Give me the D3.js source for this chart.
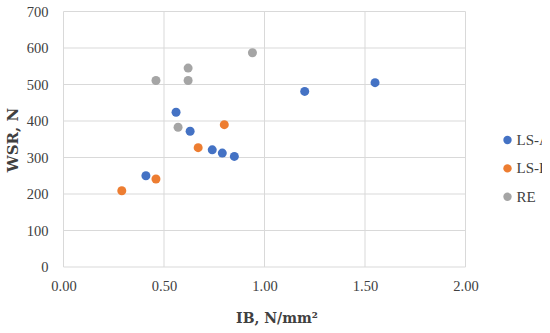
<!DOCTYPE html>
<html>
<head>
<meta charset="utf-8">
<script src="https://cdn.jsdelivr.net/npm/d3@7"></script>
<style>
  body { margin: 0; background: #fff; }
  svg { display: block; }
  text { font-family: "Liberation Serif", "DejaVu Serif", serif; fill: #404040; }
</style>
</head>
<body>
<svg id="canvas" width="550" height="333"></svg>
<script>
// values
let seriesNames = ['LS-A', 'LS-B', 'RE']
let seriesColors = ['#4472C4', '#ED7D31', '#A5A5A5']

let lsaIB = [0.41, 0.56, 0.63, 0.74, 0.79, 0.85, 1.20, 1.55]
let lsaWSR = [250, 424, 372, 321, 312, 303, 481, 505]

let lsbIB = [0.29, 0.46, 0.67, 0.80]
let lsbWSR = [209, 241, 327, 390]

let reIB = [0.46, 0.57, 0.62, 0.62, 0.94]
let reWSR = [511, 383, 545, 511, 587]

let xTicks = [0, 0.5, 1, 1.5, 2]
let yTicks = [0, 100, 200, 300, 400, 500, 600, 700]

let canvas = d3.select('#canvas')

// the source picture is cut off on the right
canvas.append('clipPath').attr('id', 'cut')
    .append('rect').attr('x', 0).attr('y', 0).attr('width', 542).attr('height', 333)

let x = d3.scaleLinear().domain([0, 2]).range([63.5, 465.5])
let y = d3.scaleLinear().domain([0, 700]).range([267, 11.5])

// grid
canvas.append('g')
    .selectAll('line')
    .data(yTicks)
    .enter()
    .append('line')
    .attr('x1', x(0)).attr('x2', x(2))
    .attr('y1', d => y(d)).attr('y2', d => y(d))
    .attr('stroke', '#D9D9D9')
    .attr('stroke-width', 1)

canvas.append('g')
    .selectAll('line')
    .data(xTicks)
    .enter()
    .append('line')
    .attr('x1', d => x(d)).attr('x2', d => x(d))
    .attr('y1', y(0)).attr('y2', y(700))
    .attr('stroke', '#D9D9D9')
    .attr('stroke-width', 1)

// axes (labels only)
let xAxis = d3.axisBottom(x).tickValues(xTicks).tickFormat(d3.format('.2f')).tickSize(0).tickPadding(14)
let yAxis = d3.axisLeft(y).tickValues(yTicks).tickSize(0).tickPadding(15)

let gx = canvas.append('g').attr('transform', 'translate(0,' + y(0) + ')').call(xAxis)
let gy = canvas.append('g').attr('transform', 'translate(' + x(0) + ',0)').call(yAxis)
gx.select('.domain').remove()
gy.select('.domain').remove()
canvas.selectAll('.tick text')
    .style('font-family', '"Liberation Serif", serif')
    .style('font-size', '14.5px')
    .attr('fill', '#404040')

// axis titles
canvas.append('text')
    .attr('x', 277).attr('y', 323)
    .attr('text-anchor', 'middle')
    .style('font-family', '"DejaVu Serif", serif')
    .style('font-size', '14px').style('font-weight', 'bold')
    .text('IB, N/mm²')

canvas.append('text')
    .attr('transform', 'translate(18,140) rotate(-90)')
    .attr('text-anchor', 'middle')
    .style('font-family', '"DejaVu Serif", serif')
    .style('font-size', '15px').style('font-weight', 'bold')
    .text('WSR, N')

// points
let series = [
    { ib: lsaIB, wsr: lsaWSR },
    { ib: lsbIB, wsr: lsbWSR },
    { ib: reIB, wsr: reWSR }
]

series.forEach((s, i) => {
    canvas.append('g')
        .selectAll('circle')
        .data(s.ib.map((v, j) => [v, s.wsr[j]]))
        .enter()
        .append('circle')
        .attr('cx', d => x(d[0]))
        .attr('cy', d => y(d[1]))
        .attr('r', 4.5)
        .attr('fill', seriesColors[i])
})

// legend
let legend = canvas.append('g')
    .attr('clip-path', 'url(#cut)')
    .selectAll('g')
    .data(seriesNames)
    .enter()
    .append('g')
    .attr('transform', (d, i) => 'translate(507.5,' + (140 + i * 28.4) + ')')

legend.append('circle').attr('r', 4.2).attr('fill', (d, i) => seriesColors[i])
legend.append('text')
    .attr('x', 9).attr('y', 5)
    .style('font-size', '15px')
    .text(d => d)
</script>
</body>
</html>
